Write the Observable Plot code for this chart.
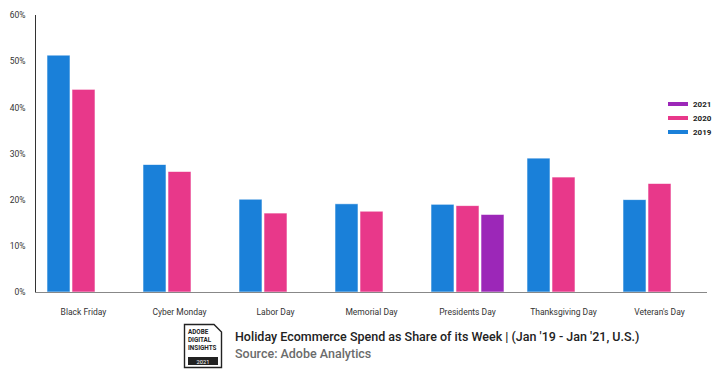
<!DOCTYPE html>
<html>
<head>
<meta charset="utf-8">
<script src="https://cdn.jsdelivr.net/npm/d3@7"></script>
<script src="https://cdn.jsdelivr.net/npm/@observablehq/plot@0.6"></script>
<style>
  body { margin: 0; background: #fff; font-family: Roboto, "Open Sans", sans-serif; }
  #wrap { position: relative; width: 725px; height: 373px; overflow: hidden; }
  #legend { position: absolute; left: 668px; top: 97px; font-size: 8px; font-weight: 700; color: #222; }
  #legend .row { display: flex; align-items: center; height: 14px; }
  #legend .sw { width: 20px; height: 4px; margin-right: 5px; }
  #footer { position: absolute; left: 183px; top: 323px; display: flex; }
  #title { position: absolute; left: 235px; top: 329px; font-size: 12.5px; font-weight: 500; color: #222; white-space: nowrap; }
  #sub { position: absolute; left: 235px; top: 346px; font-size: 12.5px; font-weight: 500; color: #6b6b6b; white-space: nowrap; }
</style>
</head>
<body>
<div id="wrap">
  <div id="chart"></div>
  <div id="legend"></div>
  <div id="footer">
    <svg width="40" height="46" viewBox="0 0 40 46">
      <path d="M1.5 1.5 H31 L38.5 9 V44.5 H1.5 Z" fill="#fff" stroke="#222" stroke-width="1.4"/>
      <text x="5" y="11" font-size="6.3" font-weight="700" fill="#222" font-family="Roboto">ADOBE</text>
      <text x="5" y="19" font-size="6.3" font-weight="700" fill="#222" font-family="Roboto">DIGITAL</text>
      <text x="5" y="27" font-size="6.3" font-weight="700" fill="#222" font-family="Roboto">INSIGHTS</text>
      <rect x="5" y="34" width="30" height="8" fill="#222"/>
      <text x="20" y="40.5" font-size="5.8" fill="#fff" text-anchor="middle" font-family="Roboto">2021</text>
    </svg>
  </div>
  <div id="title">Holiday Ecommerce Spend as Share of its Week | (Jan '19 - Jan '21, U.S.)</div>
  <div id="sub">Source: Adobe Analytics</div>
</div>
<script>
const categories = ["Black Friday", "Cyber Monday", "Labor Day", "Memorial Day", "Presidents Day", "Thanksgiving Day", "Veteran's Day"];
const years = ["2019", "2020", "2021"];
const colors = ["#1a80d9", "#e8388a", "#9c27b8"];
const values2019 = [51.3, 27.6, 20.1, 19.1, 19.0, 29.0, 20.0];
const values2020 = [43.9, 26.1, 17.1, 17.5, 18.7, 24.9, 23.5];
const values2021 = [null, null, null, null, 16.8, null, null];
const yTicks = [0, 10, 20, 30, 40, 50, 60];

const series = [values2019, values2020, values2021];
const data = [];
categories.forEach((c, i) => {
  years.forEach((y, j) => {
    const v = series[j][i];
    if (v != null) data.push({cat: c, year: y, value: v});
  });
});

const chart = Plot.plot({
  width: 725,
  height: 318,
  marginLeft: 35,
  marginRight: 18,
  marginTop: 15,
  marginBottom: 26,
  style: {fontFamily: "Roboto, sans-serif", fontSize: "8.5px", color: "#333", background: "#fff"},
  facet: {data, x: "cat"},
  fx: {domain: categories, padding: 0, label: null, tickSize: 0, tickPadding: 16, axis: "bottom"},
  x: {domain: years, axis: null, paddingInner: 0.08, paddingOuter: 0.46},
  y: {domain: [0, 60], ticks: yTicks, tickFormat: d => d + "%", tickSize: 0, tickPadding: 10, label: null, line: true},
  color: {domain: years, range: colors},
  marks: [
    Plot.barY(data, {x: "year", y: "value", fill: "year", stroke: "#fff", strokeOpacity: 0.7, strokeWidth: 0.8}),
    Plot.ruleY([0], {stroke: "#888", strokeWidth: 1})
  ]
});
document.getElementById("chart").appendChild(chart);

const legend = document.getElementById("legend");
[...years].reverse().forEach(y => {
  const row = document.createElement("div");
  row.className = "row";
  const sw = document.createElement("div");
  sw.className = "sw";
  sw.style.background = colors[years.indexOf(y)];
  const t = document.createElement("span");
  t.textContent = y;
  row.appendChild(sw); row.appendChild(t);
  legend.appendChild(row);
});
</script>
</body>
</html>
